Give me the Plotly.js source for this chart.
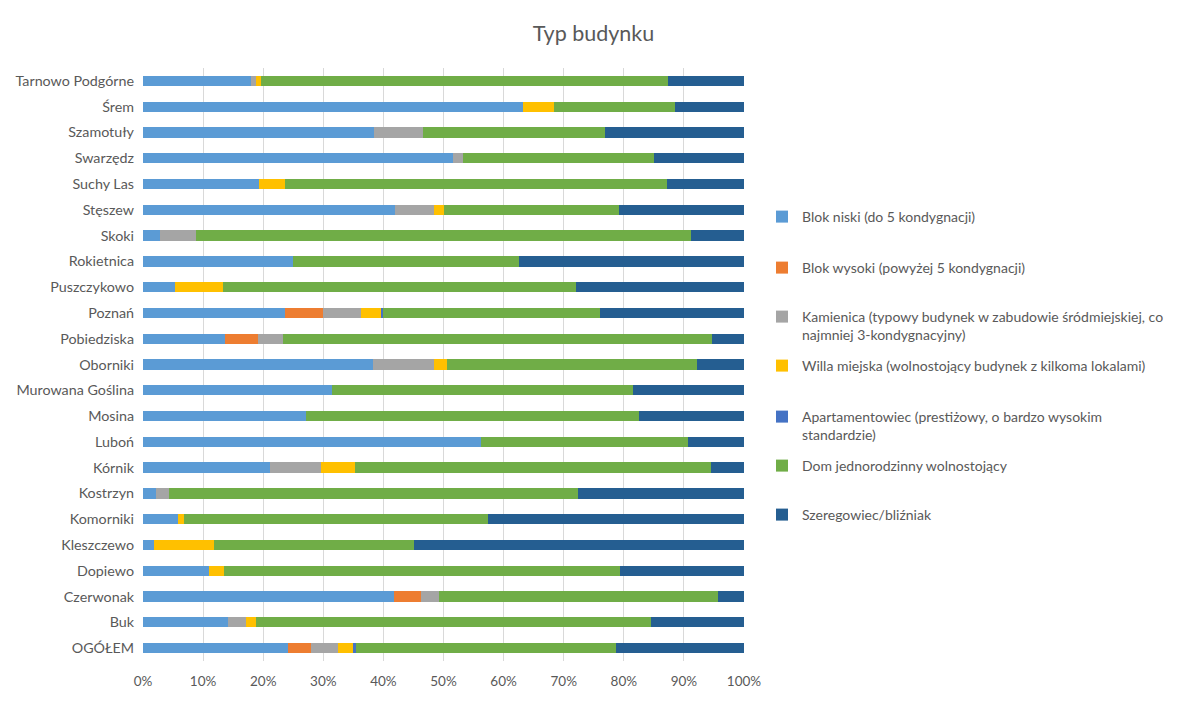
<!DOCTYPE html>
<html>
<head>
<meta charset="utf-8">
<script src="https://cdn.plot.ly/plotly-3.0.1.min.js"></script>
<style>html,body{margin:0;padding:0;background:#fff;}#chart{width:1187px;height:701px;}</style>
</head>
<body>
<div id="chart"></div>
<script>
const categories = ["Tarnowo Podgórne","Śrem","Szamotuły","Swarzędz","Suchy Las","Stęszew","Skoki","Rokietnica","Puszczykowo","Poznań","Pobiedziska","Oborniki","Murowana Goślina","Mosina","Luboń","Kórnik","Kostrzyn","Komorniki","Kleszczewo","Dopiewo","Czerwonak","Buk","OGÓŁEM"];

const seriesNames = [
  "Blok niski (do 5 kondygnacji)",
  "Blok wysoki (powyżej 5 kondygnacji)",
  "Kamienica (typowy budynek w zabudowie śródmiejskiej, co<br>najmniej 3-kondygnacyjny)",
  "Willa miejska (wolnostojący budynek z kilkoma lokalami)",
  "Apartamentowiec (prestiżowy, o bardzo wysokim<br>standardzie)",
  "Dom jednorodzinny wolnostojący",
  "Szeregowiec/bliźniak"
];

// values in % (order follows categories)
const blokNiski     = [17.9,63.3,38.4,51.6,19.3,41.9,2.9,24.9,5.3,23.6,13.6,38.2,31.4,27.1,56.3,21.1,2.1,5.8,1.9,10.9,41.7,14.1,24.1];
const blokWysoki    = [0,0,0,0,0,0,0,0,0,6.3,5.5,0,0,0,0,0,0,0,0,0,4.5,0,3.8];
const kamienica     = [0.9,0,8.2,1.6,0,6.5,6.0,0,0,6.3,4.2,10.2,0,0,0,8.5,2.2,0,0,0,3.0,3.0,4.5];
const willa         = [0.8,5.1,0,0,4.3,1.6,0,0,8.0,3.4,0,2.2,0,0,0,5.6,0,1.0,9.9,2.5,0,1.7,2.7];
const apartamentowiec=[0,0,0,0,0,0,0,0,0,0.4,0,0,0,0,0,0,0,0,0,0,0,0,0.3];
const domJednorodz  = [67.7,20.1,30.3,31.8,63.6,29.2,82.3,37.6,58.7,36.0,71.4,41.6,50.1,55.4,34.4,59.3,68.1,50.6,33.3,66.0,46.4,65.7,43.3];
const szeregowiec   = [12.7,11.5,23.1,15.0,12.8,20.8,8.8,37.5,28.0,24.0,5.3,7.8,18.5,17.5,9.3,5.5,27.6,42.6,54.9,20.6,4.4,15.5,21.3];

const seriesValues = [blokNiski, blokWysoki, kamienica, willa, apartamentowiec, domJednorodz, szeregowiec];
const colors = ["#5B9BD5","#ED7D31","#A5A5A5","#FFC000","#4472C4","#70AD47","#255E91"];
const xTickVals = [0,10,20,30,40,50,60,70,80,90,100];
const xTickText = ["0%","10%","20%","30%","40%","50%","60%","70%","80%","90%","100%"];

const legendLineY = [216,267,316,365,416,465,514];
const legendIds = ["legend","legend2","legend3","legend4","legend5","legend6","legend7"];

const traces = seriesValues.map((vals, i) => ({
  type: "bar",
  orientation: "h",
  name: seriesNames[i],
  y: categories,
  x: vals,
  marker: {color: colors[i], line: {width: 0}},
  legend: legendIds[i],
  hoverinfo: "x+y+name"
}));

const FONT = "Lato, 'Liberation Sans', sans-serif";

const layout = {
  width: 1187,
  height: 701,
  paper_bgcolor: "#ffffff",
  plot_bgcolor: "#ffffff",
  font: {family: FONT, color: "#595959", size: 13},
  title: {
    text: "Typ budynku",
    font: {size: 21.5, color: "#595959", family: FONT},
    x: 0.5, xref: "container", xanchor: "center",
    y: 1 - 33/701, yref: "container", yanchor: "middle"
  },
  barmode: "stack",
  bargap: 0.6,
  margin: {l: 143, r: 443, t: 68, b: 40, pad: 0},
  xaxis: {
    range: [0, 100],
    tickvals: xTickVals,
    ticktext: xTickText,
    showgrid: true,
    gridcolor: "#D9D9D9",
    gridwidth: 1,
    zeroline: false,
    showline: false,
    ticks: "",
    ticklabelstandoff: 10,
    tickfont: {size: 13.5, color: "#595959"},
    fixedrange: true
  },
  yaxis: {
    type: "category",
    autorange: "reversed",
    showgrid: false,
    zeroline: false,
    showline: false,
    ticks: "",
    ticklabelstandoff: 8,
    tickfont: {size: 14.3, color: "#595959"},
    fixedrange: true
  },
  showlegend: true
};

legendIds.forEach((id, i) => {
  layout[id] = {
    xref: "container", yref: "container",
    x: 762/1187, xanchor: "left",
    y: 1 - (legendLineY[i] - 15)/701, yanchor: "top",
    valign: "top",
    bgcolor: "rgba(0,0,0,0)",
    borderwidth: 0,
    itemwidth: 30,
    font: {size: 14, color: "#595959"},
    itemclick: false, itemdoubleclick: false
  };
});

Plotly.newPlot("chart", traces, layout, {displayModeBar: false, responsive: false});
</script>
</body>
</html>
